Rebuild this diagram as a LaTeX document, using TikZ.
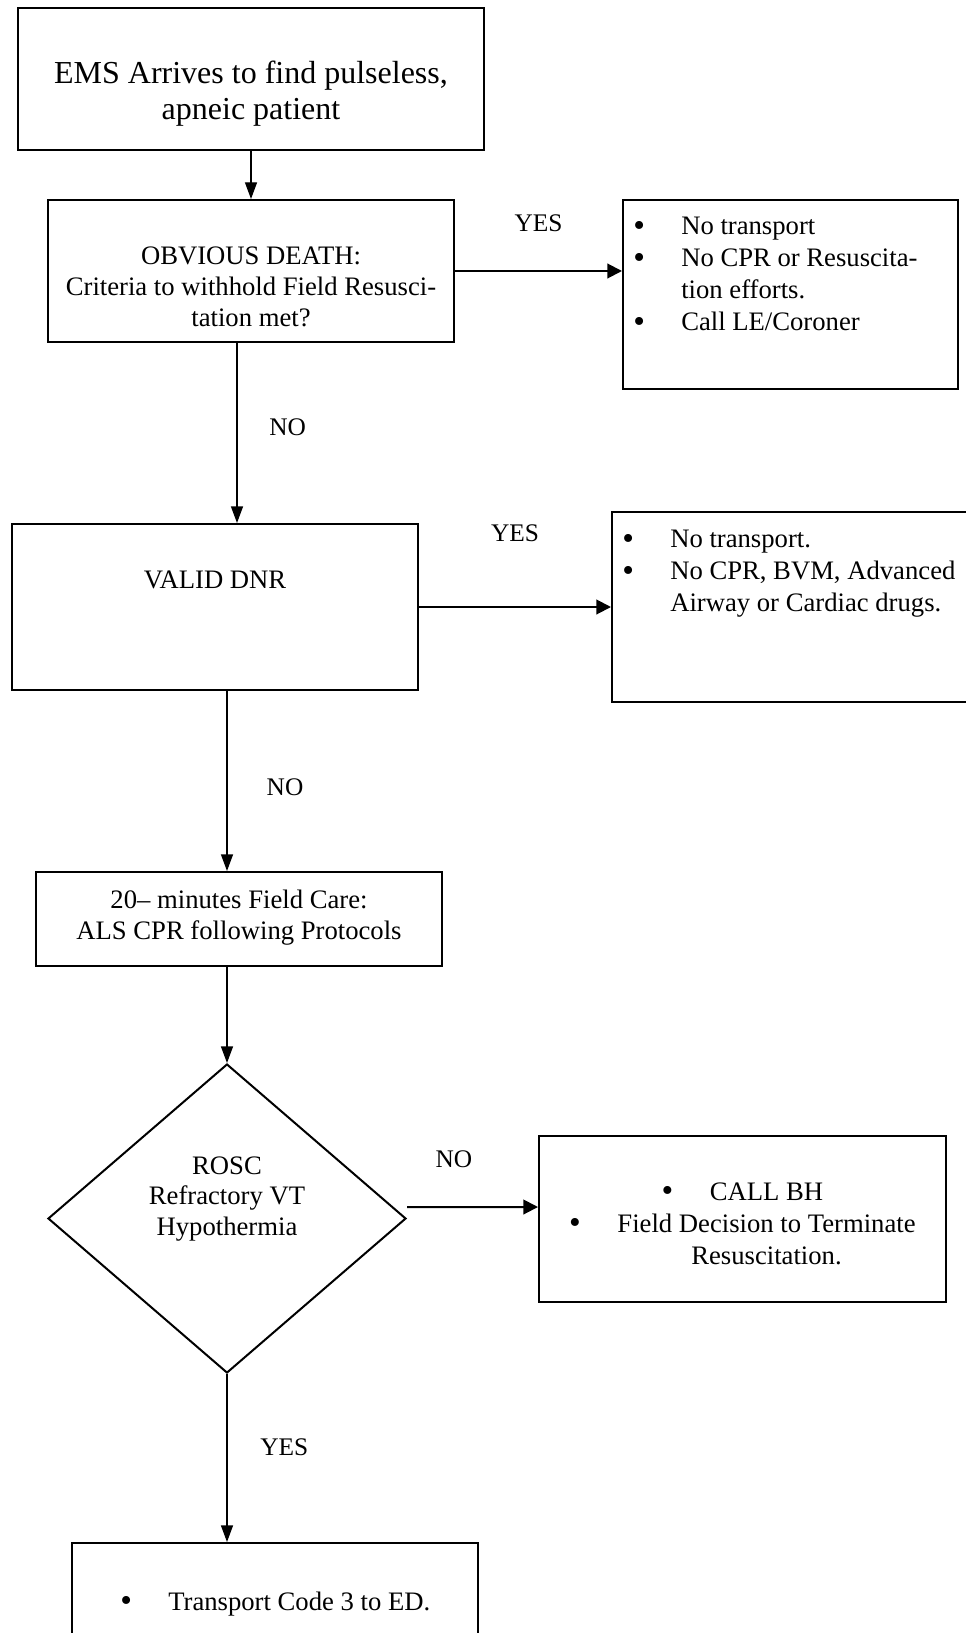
\documentclass[tikz,border=0pt]{standalone}
\usepackage{fontspec}
\setmainfont{Liberation Serif}
\usetikzlibrary{arrows.meta,shapes.geometric}
\newcommand{\bigdot}{\raisebox{-1pt}{\scalebox{1.25}{\textbullet}}}
\newcommand{\listdot}{\makebox[36pt][l]{\bigdot}}
\newcommand{\listindent}{\makebox[36pt]{}}
\newcommand{\hangdot}{\llap{\bigdot\hspace{27.5pt}}}
\tikzset{
  box/.style={draw, line width=1.5pt, inner sep=0pt},
  txt/.style={align=center, inner sep=0pt, font=\fontsize{20}{23}\selectfont},
  listtxt/.style={align=left, inner sep=0pt, font=\fontsize{20}{24}\selectfont},
  lbl/.style={inner sep=0pt, font=\fontsize{19}{23}\selectfont},
  flow/.style={-{Triangle[length=12.5pt,width=9pt]}, line width=1pt},
  flowh/.style={-{Triangle[length=11pt,width=11pt]}, line width=1.5pt}
}
\begin{document}
\begin{tikzpicture}[x=0.75pt, y=-0.75pt]
  \useasboundingbox (0,0) rectangle (966,1633);

  % boxes
  \node[box, minimum width=349.5pt, minimum height=106.5pt] (ems) at (251,79) {};
  \node[box, minimum width=304.5pt, minimum height=106.5pt] (death) at (251,271) {};
  \node[box, minimum width=251.25pt, minimum height=141.75pt] (nores) at (790.5,294.5) {};
  \node[box, minimum width=304.5pt, minimum height=124.5pt] (dnr) at (215,607) {};
  \node[box, minimum width=276pt, minimum height=142.5pt] (nodnr) at (796,607) {};
  \node[box, minimum width=304.5pt, minimum height=70.5pt] (care) at (239,919) {};
  \node[box, shape=diamond, minimum width=268.5pt, minimum height=231.75pt] (rosc) at (227,1218.5) {};
  \node[box, minimum width=305.25pt, minimum height=124.5pt] (term) at (742.5,1219) {};
  \node[box, minimum width=304.5pt, minimum height=117.75pt] (transport) at (275,1621.5) {};

  % texts
  \node[txt, font=\fontsize{24}{27}\selectfont] (emstext) at (251,94) {EMS Arrives to find pulseless,\\apneic patient};
  \node[txt] (deathtext) at (251,287) {OBVIOUS DEATH:\\Criteria to withhold Field Resusci-\\tation met?};
  \node[listtxt, anchor=north west] (norestext) at (633,217) {\listdot No transport\\\listdot No CPR or Resuscita-\\\listindent tion efforts.\\\listdot Call LE/Coroner};
  \node[txt] (dnrtext) at (215,580) {VALID DNR};
  \node[listtxt, anchor=north west] (nodnrtext) at (622,530) {\listdot No transport.\\\listdot No CPR, BVM, Advanced\\\listindent Airway or Cardiac drugs.};
  \node[txt, text depth=0pt] (caretext) at (239,915) {20– minutes Field Care:\\ALS CPR following Protocols};
  \node[txt] (rosctext) at (227,1199) {ROSC\\Refractory VT\\Hypothermia};
  \node[txt, font=\fontsize{20}{24}\selectfont] (termtext) at (766.5,1224) {\hangdot CALL BH\\\hangdot Field Decision to Terminate\\Resuscitation.};
  \node[listtxt, anchor=base west] (transporttext) at (120,1610) {\listdot Transport Code 3 to ED.};

  % connectors
  \draw[flow] (ems.south) -- (death.north);
  \draw[flowh] (death.east) -- (death.east -| nores.west) node[lbl, midway, yshift=36pt] {YES};
  \draw[flow] ([xshift=-10.5pt]death.south) -- ([xshift=16.5pt]dnr.north) node[lbl, midway, xshift=38pt, yshift=4pt] {NO};
  \draw[flowh] (dnr.east) -- (dnr.east -| nodnr.west) node[lbl, midway, yshift=55pt] {YES};
  \draw[flow] ([xshift=9pt]dnr.south) -- ([xshift=-9pt]care.north) node[lbl, midway, xshift=43.5pt, yshift=-5pt] {NO};
  \draw[flow] ([xshift=-9pt]care.south) -- (rosc.north);
  \draw[flowh] ([yshift=8.6pt]rosc.east) -- ([yshift=9pt]term.west) node[lbl, midway, xshift=-14pt, yshift=36pt] {NO};
  \draw[flow] (rosc.south) -- ([xshift=-36pt]transport.north) node[lbl, midway, xshift=43pt, yshift=8pt] {YES};
\end{tikzpicture}
\end{document}
